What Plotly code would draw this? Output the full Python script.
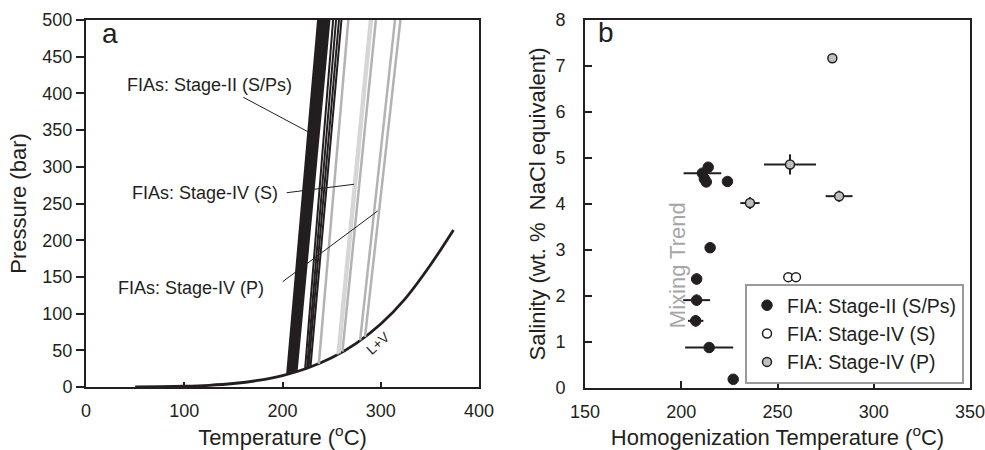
import plotly.graph_objects as go

# ---------------- Panel a data ----------------
# Liquid + vapour (L+V) boundary of H2O
lv_T = [50, 75, 100, 125, 150, 175, 200, 225, 250, 275, 300, 325, 350, 374]
lv_P = [0.12, 0.39, 1.01, 2.32, 4.76, 8.92, 15.5, 25.5, 39.7, 59.5, 85.8, 120.5, 165.2, 214]

# Isochores: start (Th, P on L+V) -> temperature reached at 500 bar
s2_Th = [205, 206, 207, 208, 209, 210, 211, 212, 213, 214]
s2_Ph = [17.2, 17.6, 17.9, 18.3, 18.7, 19.1, 19.5, 19.9, 20.3, 20.7]
s2_T500 = [236.5, 237.5, 239, 240, 241.5, 242.5, 244, 245, 246.5, 247.5]

s2b_Th = [223, 225, 226.5, 228.5]
s2b_Ph = [24.6, 25.5, 26.3, 27.3]
s2b_T500 = [251.5, 254.5, 257.5, 260]

s4S_Th = [256, 258]
s4S_Ph = [44.4, 45.7]
s4S_T500 = [289, 291]

s4P_Th = [237, 261, 279, 284]
s4P_Ph = [31.6, 48.2, 63.4, 68.2]
s4P_T500 = [267, 295, 314.5, 320]

P_TOP = 500

# ---------------- Panel b data ----------------
st2_x = [214, 211, 212, 213, 224, 215, 208, 208, 207.5, 214.5, 227]
st2_y = [4.80, 4.67, 4.55, 4.48, 4.49, 3.05, 2.37, 1.91, 1.46, 0.88, 0.19]
st2_xerr = [0, 9.8, 0, 0, 0, 0, 0, 7, 4, 12.5, 0]
st2_yerr = [0, 0, 0, 0, 0, 0, 0.12, 0.12, 0.13, 0, 0]

st4S_x = [255.6, 259.6]
st4S_y = [2.41, 2.41]

st4P_x = [278.5, 256.5, 282, 235.7]
st4P_y = [7.17, 4.86, 4.17, 4.02]
st4P_xerr = [0, 13.5, 7, 5]
st4P_yerr = [0, 0.22, 0.12, 0.13]

INK = "#231f20"
FONT = "Liberation Sans, Arial, sans-serif"

fig = go.Figure()

# L+V curve
fig.add_trace(go.Scatter(x=lv_T, y=lv_P, mode="lines", line=dict(color=INK, width=2.8, shape="spline"),
                         xaxis="x", yaxis="y", showlegend=False, hoverinfo="skip"))


def add_isochores(th, ph, t500, color, width):
    for a, p, b in zip(th, ph, t500):
        fig.add_trace(go.Scatter(x=[a, b], y=[p, P_TOP], mode="lines",
                                 line=dict(color=color, width=width),
                                 xaxis="x", yaxis="y", showlegend=False, hoverinfo="skip"))


add_isochores(s4P_Th, s4P_Ph, s4P_T500, "#b3b3b3", 2.5)
add_isochores(s4S_Th, s4S_Ph, s4S_T500, "#d6d6d6", 2.5)
add_isochores(s2b_Th, s2b_Ph, s2b_T500, INK, 2)
add_isochores(s2_Th, s2_Ph, s2_T500, INK, 2.6)

# Panel b scatter
eb = dict(color=INK, thickness=2, width=0)
fig.add_trace(go.Scatter(x=st2_x, y=st2_y, mode="markers", name="FIA: Stage-II (S/Ps)",
                         marker=dict(color=INK, size=10.5, line=dict(color=INK, width=1)),
                         error_x=dict(type="data", array=st2_xerr, visible=True, **eb),
                         error_y=dict(type="data", array=st2_yerr, visible=True, **eb),
                         xaxis="x2", yaxis="y2"))
fig.add_trace(go.Scatter(x=st4S_x, y=st4S_y, mode="markers", name="FIA: Stage-IV (S)",
                         marker=dict(color="white", size=9, line=dict(color=INK, width=1.5)),
                         xaxis="x2", yaxis="y2"))
fig.add_trace(go.Scatter(x=st4P_x, y=st4P_y, mode="markers", name="FIA: Stage-IV (P)",
                         marker=dict(color="#bfbfbf", size=9, line=dict(color=INK, width=1.5)),
                         error_x=dict(type="data", array=st4P_xerr, visible=True, **eb),
                         error_y=dict(type="data", array=st4P_yerr, visible=True, **eb),
                         xaxis="x2", yaxis="y2"))

W, H = 985, 450
axcommon = dict(showline=True, linecolor=INK, linewidth=2, mirror=True, showgrid=False, zeroline=False,
                automargin=False, ticklabeloverflow="allow",
                tickcolor=INK, tickwidth=1.5, tickfont=dict(size=18, color=INK, family=FONT))
title_font = dict(size=22, color=INK, family=FONT)

fig.update_layout(
    width=W, height=H, margin=dict(l=0, r=0, t=0, b=0),
    paper_bgcolor="white", plot_bgcolor="white",
    font=dict(family=FONT, color=INK),
    xaxis=dict(domain=[86 / W, 479 / W], range=[0, 400], dtick=100, ticks="inside", ticklen=5,
               title=dict(text="Temperature (<sup>o</sup>C)", font=title_font, standoff=14),
               ticklabelstandoff=6, anchor="y", **axcommon),
    yaxis=dict(domain=[1 - 387 / H, 1 - 20 / H], range=[0, 500], dtick=50, ticks="outside", ticklen=8,
               title=dict(text="Pressure (bar)", font=title_font, standoff=10),
               anchor="x", **axcommon),
    xaxis2=dict(domain=[585 / W, 970 / W], range=[150, 350], dtick=50, ticks="inside", ticklen=7,
                title=dict(text="Homogenization Temperature (<sup>o</sup>C)", font=title_font, standoff=14),
                ticklabelstandoff=6, anchor="y2", **axcommon),
    yaxis2=dict(domain=[1 - 388 / H, 1 - 20 / H], range=[0, 8], dtick=1, ticks="inside", ticklen=7,
                title=dict(text="Salinity (wt. %\u00a0 NaCl equivalent)", font=title_font, standoff=4),
                ticklabelstandoff=14, anchor="x2", **axcommon),
    legend=dict(x=745 / W, y=1 - 284 / H, xanchor="left", yanchor="top",
                bgcolor="white", bordercolor="#9a9a9a", borderwidth=2,
                font=dict(size=19.5, color=INK, family=FONT), tracegroupgap=0),
)

# Leader lines for panel a labels
leaders = [((160.1, 394.7), (227.0, 347.0)),
           ((204.3, 264.7), (272.8, 276.2)),
           ((200.2, 143.5), (296.9, 239.8))]
for (x0, y0), (x1, y1) in leaders:
    fig.add_shape(type="line", xref="x", yref="y", x0=x0, y0=y0, x1=x1, y1=y1,
                  line=dict(color=INK, width=1))

ann = dict(showarrow=False, font=dict(size=18, color=INK, family=FONT))
fig.add_annotation(x=125.2, y=411.4, xref="x", yref="y", text="FIAs: Stage-II (S/Ps)", **ann)
fig.add_annotation(x=121.1, y=264.3, xref="x", yref="y", text="FIAs: Stage-IV (S)", **ann)
fig.add_annotation(x=106.4, y=134.9, xref="x", yref="y", text="FIAs: Stage-IV (P)", **ann)
fig.add_annotation(x=297.2, y=60, xref="x", yref="y", text="L+V", textangle=-42,
                   showarrow=False, font=dict(size=14, color=INK, family=FONT))
fig.add_annotation(x=24.4, y=482, xref="x", yref="y", text="a",
                   showarrow=False, font=dict(size=28, color=INK, family=FONT))
fig.add_annotation(x=160.9, y=7.72, xref="x2", yref="y2", text="b",
                   showarrow=False, font=dict(size=28, color=INK, family=FONT))
fig.add_annotation(x=197.8, y=2.67, xref="x2", yref="y2", text="Mixing Trend", textangle=-90,
                   showarrow=False, font=dict(size=22, color="#a6a6a6", family=FONT))

fig.write_html("out.html")
